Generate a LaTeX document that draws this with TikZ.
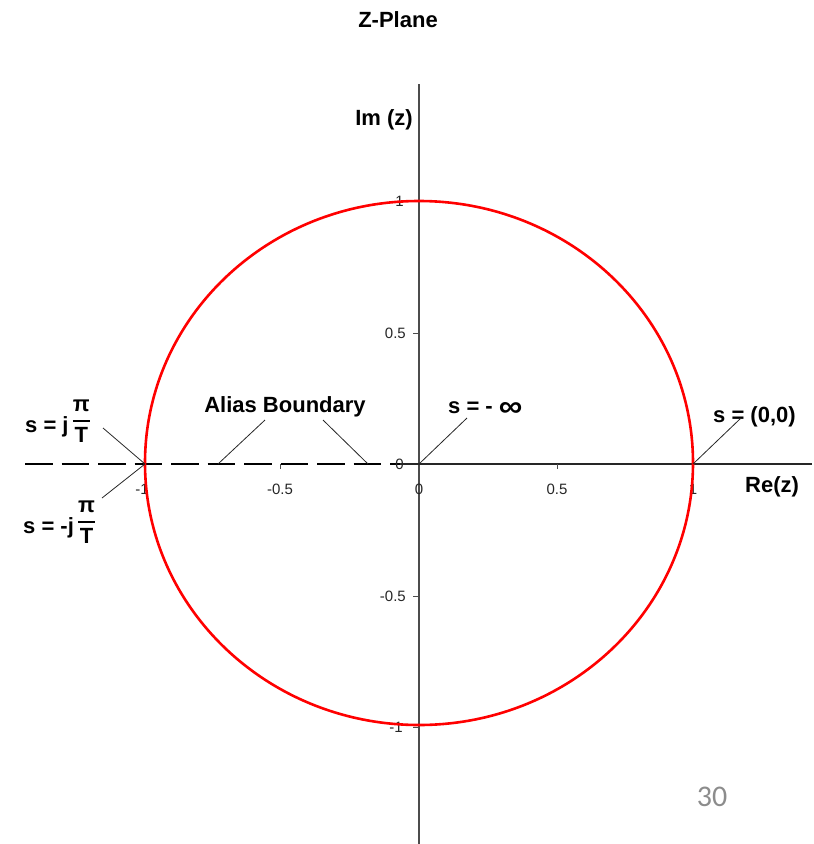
\documentclass[tikz,border=0pt]{standalone}
\usepackage{amsmath}
\usepackage{graphicx}
\usepackage{fontspec}
\setmainfont{Liberation Sans}
\newfontfamily\slidefont{Carlito}
\newcommand\pifr{\raisebox{6pt}{$\genfrac{}{}{2pt}{0}{\hbox{π}}{\hbox{T}}$}}
\begin{document}
\begin{tikzpicture}[x=1pt,y=-1pt,
  lbl/.style={font=\fontsize{22}{24}\selectfont\bfseries, inner sep=0pt, text=black},
  ticklbl/.style={font=\fontsize{15}{17}\selectfont, inner sep=0pt, text=black!85},
  axisline/.style={draw=black!70, line width=1.3pt},
  tickmark/.style={draw=black!70, line width=1pt},
  leader/.style={draw=black!85, line width=0.8pt},
  unitcirc/.style={draw=red, line width=2.6pt}]
\useasboundingbox (0,0) rectangle (814,844);

% coordinates
\coordinate (ytop) at (419,84);
\coordinate (ybot) at (419,844);
\coordinate (xl) at (25,464);
\coordinate (xm) at (400,464);
\coordinate (xr) at (812,464);
\coordinate (zm1) at (145,464);
\coordinate (z0) at (419,464);
\coordinate (zp1) at (693,464);

% axes
\draw[axisline] (ytop) -- (ybot);
\draw[draw=black, line width=1.3pt, dash pattern=on 27.5pt off 9pt] (xl) -- (xm);
\draw[axisline, draw=black!85] (xm) -- (xr);

% ticks
\foreach \tx in {145,280,557,693} \draw[tickmark] (\tx,464) -- (\tx,469);
\foreach \ty in {201,333,596,727} \draw[tickmark] (413,\ty) -- (419,\ty);

% tick labels
\node[ticklbl] (tx1) at (142,489) {-1};
\node[ticklbl] (tx2) at (280,489) {-0.5};
\node[ticklbl] (tx3) at (419,489) {0};
\node[ticklbl] (tx4) at (557,489) {0.5};
\node[ticklbl] (tx5) at (693,489) {1};
\node[ticklbl, anchor=east] (ty1) at (404,201) {1};
\node[ticklbl, anchor=east] (ty2) at (406,333) {0.5};
\node[ticklbl, anchor=east] (ty3) at (404,464) {0};
\node[ticklbl, anchor=east] (ty4) at (406,596) {-0.5};
\node[ticklbl, anchor=east] (ty5) at (403,727) {-1};

% unit circle
\draw[unitcirc] (419,463) ellipse [x radius=274pt, y radius=262pt];

% titles
\node[lbl, anchor=base] (title) at (398,27) {Z-Plane};
\node[lbl, anchor=base east] (imz) at (413,125) {Im (z)};
\node[lbl, anchor=base west] (rez) at (745,492) {Re(z)};

% annotations
\node[lbl, anchor=base west] (s00) at (713,422) {s = (0,0)};
\node[lbl, anchor=base west] (sinf) at (448,413) {s = - \raisebox{-3.5pt}{\scalebox{1.5}[1.35]{∞}}};
\node[lbl, anchor=base] (alias) at (285,412) {Alias Boundary};
\node[lbl, anchor=base west] (spos) at (25,432) {s = j\hspace{3pt}\pifr};
\node[lbl, anchor=base west] (sneg) at (23,533) {s = -j\hspace{3pt}\pifr};

% leader lines
\coordinate (lpos) at (103,428);
\coordinate (lneg) at (102,498);
\coordinate (la1) at (265,420);
\coordinate (la1e) at (218,464);
\coordinate (la2) at (323,420);
\coordinate (la2e) at (368,464);
\coordinate (linf) at (467,418);
\coordinate (l00) at (741,418);
\draw[leader] (lpos) -- (zm1);
\draw[leader] (lneg) -- (zm1);
\draw[leader] (la1) -- (la1e);
\draw[leader] (la2) -- (la2e);
\draw[leader] (linf) -- (z0);
\draw[leader] (l00) -- (zp1);

% slide number
\node[font=\slidefont\fontsize{30}{30}\selectfont, text=black!45, anchor=base, inner sep=0pt] (pg) at (712,806) {30};
\end{tikzpicture}
\end{document}
